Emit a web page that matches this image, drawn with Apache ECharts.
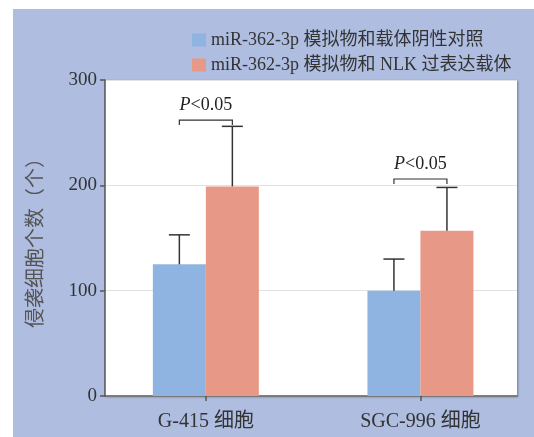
<!DOCTYPE html>
<html>
<head>
<meta charset="utf-8">
<script src="https://cdn.jsdelivr.net/npm/echarts@6/dist/echarts.min.js"></script>
<style>
    html, body {margin: 0; padding: 0; background: #fff;}
    #chart {position: absolute; left: 13px; top: 9px; width: 521px; height: 428px;}
</style>
</head>
<body>
<div id="chart"></div>
<script>
'use strict'

var categories = ['G-415 细胞', 'SGC-996 细胞'];
var seriesNames = ['miR-362-3p 模拟物和载体阴性对照', 'miR-362-3p 模拟物和 NLK 过表达载体'];
var controlMeans = [125, 100];
var controlUpper = [153, 130];
var nlkMeans = [199, 157];
var nlkUpper = [256, 198];
var bracketLevels = [262, 206];
var pLabels = ['P<0.05', 'P<0.05'];
var yTicks = [0, 100, 200, 300];

var barWidth = 53;
var fontStack = '"Liberation Serif", "Noto Sans CJK SC", serif';

var myChart = echarts.init(document.getElementById('chart'));

function errorItem(offsetSign) {
    return function (params, api) {
        var x = api.value(0);
        var top = api.coord([x, api.value(2)]);
        var base = api.coord([x, api.value(1)]);
        var cx = top[0] + offsetSign * barWidth / 2;
        var style = {stroke: '#333', lineWidth: 1.5};
        return {
            type: 'group',
            children: [
                {type: 'line', shape: {x1: cx, y1: base[1], x2: cx, y2: top[1]}, style: style},
                {type: 'line', shape: {x1: cx - 10.5, y1: top[1], x2: cx + 10.5, y2: top[1]}, style: style}
            ]
        };
    };
}

function bracketItem(params, api) {
    var x = api.value(0);
    var p = api.coord([x, api.value(1)]);
    var x1 = p[0] - barWidth / 2;
    var x2 = p[0] + barWidth / 2;
    return {
        type: 'group',
        children: [
            {
                type: 'polyline',
                shape: {points: [[x1, p[1] + 5], [x1, p[1]], [x2, p[1]], [x2, p[1] + 5]]},
                style: {stroke: '#333', lineWidth: 1.2, fill: null}
            },
            {
                type: 'text',
                style: {
                    x: p[0], y: p[1] - 15,
                    text: '{i|P}<' + pLabels[params.dataIndex].split('<')[1],
                    align: 'center', verticalAlign: 'middle',
                    fontSize: 18, fontFamily: fontStack, fill: '#222',
                    rich: {
                        i: {fontStyle: 'italic', fontSize: 18, fontFamily: fontStack, fill: '#222'}
                    }
                }
            }
        ]
    };
}

var option = {
    backgroundColor: '#aebde0',
    animation: false,
    textStyle: {fontFamily: fontStack},
    legend: {
        orient: 'vertical',
        left: 174,
        top: 17,
        itemWidth: 14,
        itemHeight: 13,
        itemGap: 7,
        icon: 'rect',
        data: seriesNames,
        textStyle: {fontSize: 18, color: '#333', fontFamily: fontStack}
    },
    grid: {
        left: 92,
        top: 71,
        right: 17,
        bottom: 41,
        show: true,
        backgroundColor: '#fff',
        borderWidth: 0,
        shadowColor: 'rgba(0,0,0,0.35)',
        shadowBlur: 2,
        shadowOffsetX: 1,
        shadowOffsetY: 1
    },
    xAxis: {
        type: 'value',
        min: -0.47,
        max: 1.45,
        splitLine: {show: false},
        axisLine: {onZero: false, lineStyle: {color: '#555', width: 1.5}},
        axisTick: {show: true, length: 5, customValues: [0, 1], lineStyle: {color: '#555', width: 1.5}},
        axisLabel: {
            customValues: [0, 1],
            margin: 16,
            fontSize: 20,
            color: '#333',
            fontFamily: fontStack,
            formatter: function (v) {
                return categories[Math.round(v)];
            }
        }
    },
    yAxis: {
        type: 'value',
        min: 0,
        max: 300,
        interval: 100,
        name: '侵袭细胞个数（个）',
        nameLocation: 'middle',
        nameGap: 58,
        nameTextStyle: {fontSize: 20, color: '#555', fontFamily: fontStack},
        axisLine: {show: true, onZero: false, lineStyle: {color: '#555', width: 1.5}},
        axisTick: {show: true, length: 5, lineStyle: {color: '#555', width: 1.5}},
        axisLabel: {
            fontSize: 19, color: '#333', margin: 8, fontFamily: fontStack,
            formatter: function (v) { return yTicks.indexOf(v) >= 0 ? String(v) : ''; }
        },
        splitLine: {lineStyle: {color: '#e2e2e2', width: 1}}
    },
    series: [
        {
            name: seriesNames[0],
            type: 'bar',
            barWidth: barWidth,
            barGap: '0%',
            itemStyle: {color: '#8fb4e2'},
            data: controlMeans.map(function (v, i) { return [i, v]; })
        },
        {
            name: seriesNames[1],
            type: 'bar',
            barWidth: barWidth,
            barGap: '0%',
            itemStyle: {color: '#e89886'},
            data: nlkMeans.map(function (v, i) { return [i, v]; })
        },
        {
            type: 'custom',
            renderItem: errorItem(-1),
            z: 5,
            data: controlMeans.map(function (v, i) { return [i, v, controlUpper[i]]; })
        },
        {
            type: 'custom',
            renderItem: errorItem(1),
            z: 5,
            data: nlkMeans.map(function (v, i) { return [i, v, nlkUpper[i]]; })
        },
        {
            type: 'custom',
            renderItem: bracketItem,
            z: 5,
            data: bracketLevels.map(function (v, i) { return [i, v]; })
        }
    ]
};

myChart.setOption(option);
</script>
</body>
</html>
